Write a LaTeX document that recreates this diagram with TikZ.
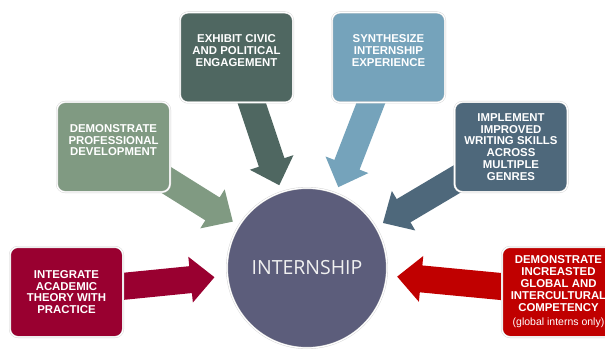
\documentclass[tikz,border=0pt]{standalone}
\usepackage{fontspec}
\setmainfont{Liberation Sans}
\newfontfamily\circfont{Open Sans}
\usetikzlibrary{calc}
\pgfdeclarelayer{background}
\pgfsetlayers{background,main}
\definecolor{redA}{RGB}{153,0,48}
\definecolor{redB}{RGB}{192,0,0}
\definecolor{sage}{RGB}{128,154,130}
\definecolor{slate}{RGB}{79,103,97}
\definecolor{steel}{RGB}{117,163,187}
\definecolor{navy}{RGB}{78,104,123}
\definecolor{circ}{RGB}{92,93,123}
\tikzset{
  outline/.style={draw=black!18, double=white, double distance=1.2pt, line width=0.4pt},
  goalbox/.style={outline, rounded corners=8pt, minimum width=113pt, minimum height=90pt,
    inner sep=0pt, align=center, text=white, font=\fontsize{11.4}{11.8}\selectfont\bfseries},
  hubnode/.style={outline, circle, minimum size=160pt, inner sep=0pt, fill=circ,
    text=white!94!black, font=\circfont\fontsize{19.5}{22}\selectfont},
}
\newcommand\fatarrow[4]{% #1 from node, #2 to node, #3 distance of tip from target centre, #4 colour
  \coordinate (tip-#1) at ($(#2.center)!#3!(#1.center)$);
  \coordinate (hb-#1) at ($(tip-#1)!24pt!(#1.center)$);
  \fill[#4] ($(#1.center)!13.5pt!90:(tip-#1)$) -- ($(hb-#1)!13.5pt!90:(tip-#1)$)
    -- ($(hb-#1)!23pt!90:(tip-#1)$) -- (tip-#1) -- ($(hb-#1)!23pt!-90:(tip-#1)$)
    -- ($(hb-#1)!13.5pt!-90:(tip-#1)$) -- ($(#1.center)!13.5pt!-90:(tip-#1)$) -- cycle;
}
\begin{document}
\begin{tikzpicture}[x=1pt,y=-1pt]
\useasboundingbox (0,0) rectangle (605,350);
\clip (0,0) rectangle (605,350);
\node[hubnode] (intern) at (307,268) {INTERNSHIP};
\node[goalbox, fill=redA] (integ) at (66.5,292) {INTEGRATE\\ACADEMIC\\THEORY WITH\\PRACTICE};
\node[goalbox, fill=sage] (prof) at (113.5,147) {DEMONSTRATE\\PROFESSIONAL\\DEVELOPMENT\\[2pt]};
\node[goalbox, fill=slate] (civic) at (236.5,57.5) {EXHIBIT CIVIC\\AND POLITICAL\\ENGAGEMENT\\[2pt]};
\node[goalbox, fill=steel] (synth) at (388.5,57.5) {SYNTHESIZE\\INTERNSHIP\\EXPERIENCE\\[2pt]};
\node[goalbox, fill=navy] (write) at (511,147) {IMPLEMENT\\IMPROVED\\WRITING SKILLS\\ACROSS\\MULTIPLE\\GENRES};
\node[goalbox, fill=redB] (global) at (558.5,292) {DEMONSTRATE\\INCREASTED\\GLOBAL AND\\INTERCULTURAL\\COMPETENCY\\[3pt]{\mdseries\fontsize{10.5}{12}\selectfont(global interns only)}};
\begin{pgfonlayer}{background}
\fatarrow{integ}{intern}{93pt}{redA}
\fatarrow{prof}{intern}{87.5pt}{sage}
\fatarrow{civic}{intern}{87.3pt}{slate}
\fatarrow{synth}{intern}{86.7pt}{steel}
\fatarrow{write}{intern}{88.3pt}{navy}
\fatarrow{global}{intern}{90.6pt}{redB}
\end{pgfonlayer}
\end{tikzpicture}
\end{document}
